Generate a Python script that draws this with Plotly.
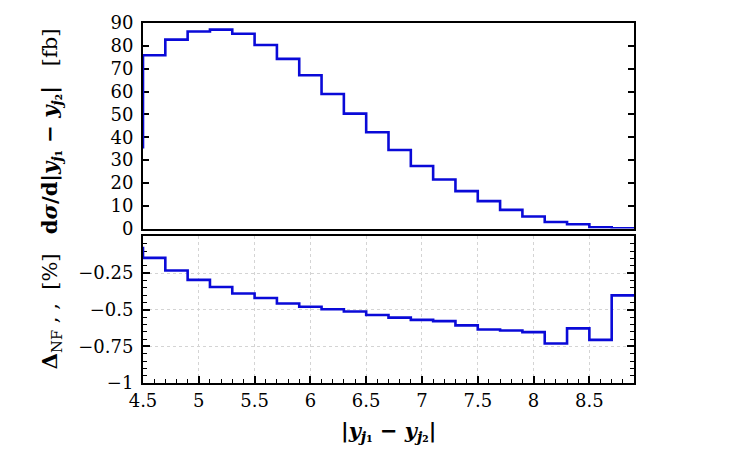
import plotly.graph_objects as go

# ---- data ----
bin_edges = [4.5, 4.7, 4.9, 5.1, 5.3, 5.5, 5.7, 5.9, 6.1, 6.3, 6.5, 6.7, 6.9,
             7.1, 7.3, 7.5, 7.7, 7.9, 8.1, 8.3, 8.5, 8.7, 8.9]
xsec = [75.9, 82.7, 86.3, 87.1, 85.3, 80.4, 74.3, 67.1, 58.9, 50.3, 42.2,
        34.4, 27.4, 21.5, 16.4, 12.0, 8.2, 5.3, 2.9, 1.9, 0.6, 0.15]
xsec_underflow = 35.0
delta_nf = [-0.146, -0.232, -0.296, -0.345, -0.389, -0.420, -0.457, -0.480,
            -0.497, -0.512, -0.536, -0.554, -0.569, -0.578, -0.607, -0.635,
            -0.642, -0.653, -0.730, -0.627, -0.706, -0.402]
delta_underflow = -0.07

top_ticks = [0, 10, 20, 30, 40, 50, 60, 70, 80, 90]
bot_ticks = [-1, -0.75, -0.5, -0.25]
bot_ticktext = ["\u22121", "\u22120.75", "\u22120.5", "\u22120.25"]
x_ticks = [4.5, 5, 5.5, 6, 6.5, 7, 7.5, 8, 8.5]
x_ticktext = ["4.5", "5", "5.5", "6", "6.5", "7", "7.5", "8", "8.5"]

# ---- step lines ----
def steps(edges, vals, under):
    xs = [edges[0]] + list(edges)
    ys = [under] + list(vals) + [vals[-1]]
    return xs, ys

BLUE = "#0a0ad8"
FONT = "DejaVu Serif"

fig = go.Figure()
tx, ty = steps(bin_edges, xsec, xsec_underflow)
fig.add_trace(go.Scatter(x=tx, y=ty, mode="lines", line=dict(shape="hv", color=BLUE, width=2.6),
                         xaxis="x", yaxis="y", showlegend=False, hoverinfo="skip"))
bx, by = steps(bin_edges, delta_nf, delta_underflow)
fig.add_trace(go.Scatter(x=bx, y=by, mode="lines", line=dict(shape="hv", color=BLUE, width=2.6),
                         xaxis="x2", yaxis="y2", showlegend=False, hoverinfo="skip"))

tickfont = dict(family=FONT, size=18, color="black")
axis_common = dict(showline=True, linecolor="black", linewidth=2,
                   layer="below traces", zeroline=False)

fig.update_layout(
    width=750, height=450,
    margin=dict(l=143, r=116, t=17, b=67),
    plot_bgcolor="white", paper_bgcolor="white",
    font=dict(family=FONT, color="black"),
    xaxis=dict(domain=[0, 1], anchor="y", range=[4.5, 8.9], showticklabels=False,
               ticks="", showgrid=False, matches="x2", mirror=True, **axis_common),
    yaxis=dict(domain=[0.429, 1], anchor="x", range=[0, 90], tickvals=top_ticks,
               ticks="inside", ticklen=6, tickwidth=1.5, tickcolor="black",
               showgrid=False, tickfont=tickfont, ticklabelstandoff=4,
               mirror="ticks", **axis_common),
    xaxis2=dict(domain=[0, 1], anchor="y2", range=[4.5, 8.9], tickvals=x_ticks,
                ticktext=x_ticktext, ticks="inside", ticklen=7, tickwidth=1.5,
                tickcolor="black", tickfont=tickfont,
                showgrid=True, gridcolor="#d4d4d4", griddash="dot", gridwidth=1,
                minor=dict(dtick=0.1, tick0=4.5, ticks="inside", ticklen=4,
                           tickwidth=1.2, tickcolor="black", showgrid=False),
                mirror=True, **axis_common),
    yaxis2=dict(domain=[0, 0.407], anchor="x2", range=[-1, 0], tickvals=bot_ticks,
                ticktext=bot_ticktext, ticks="inside", ticklen=7, tickwidth=1.5,
                tickcolor="black", tickfont=tickfont, ticklabelstandoff=4,
                showgrid=True, gridcolor="#d4d4d4", griddash="dot", gridwidth=1,
                minor=dict(dtick=0.05, tick0=0, ticks="inside", ticklen=4,
                           tickwidth=1.2, tickcolor="black", showgrid=False),
                mirror="ticks", **axis_common),
)

title_font = dict(family=FONT, size=21, color="black")
fig.add_annotation(
    text="<b>d<i>σ</i>/d|<i>y</i><sub><i>j</i>₁</sub> − <i>y</i><sub><i>j</i>₂</sub>|</b>   [fb]",
    xref="paper", yref="paper", x=-0.189, y=0.70, xanchor="center", yanchor="middle",
    textangle=-90, showarrow=False, font=title_font)
fig.add_annotation(
    text="<b>Δ</b><sub>NF</sub> , ,  [%]",
    xref="paper", yref="paper", x=-0.189, y=0.20, xanchor="center", yanchor="middle",
    textangle=-90, showarrow=False, font=title_font)
fig.add_annotation(
    text="<b>|<i>y</i><sub><i>j</i>₁</sub> − <i>y</i><sub><i>j</i>₂</sub>|</b>",
    xref="paper", yref="paper", x=0.5, y=-0.135, xanchor="center", yanchor="middle",
    showarrow=False, font=title_font)

fig.write_html("out.html")
